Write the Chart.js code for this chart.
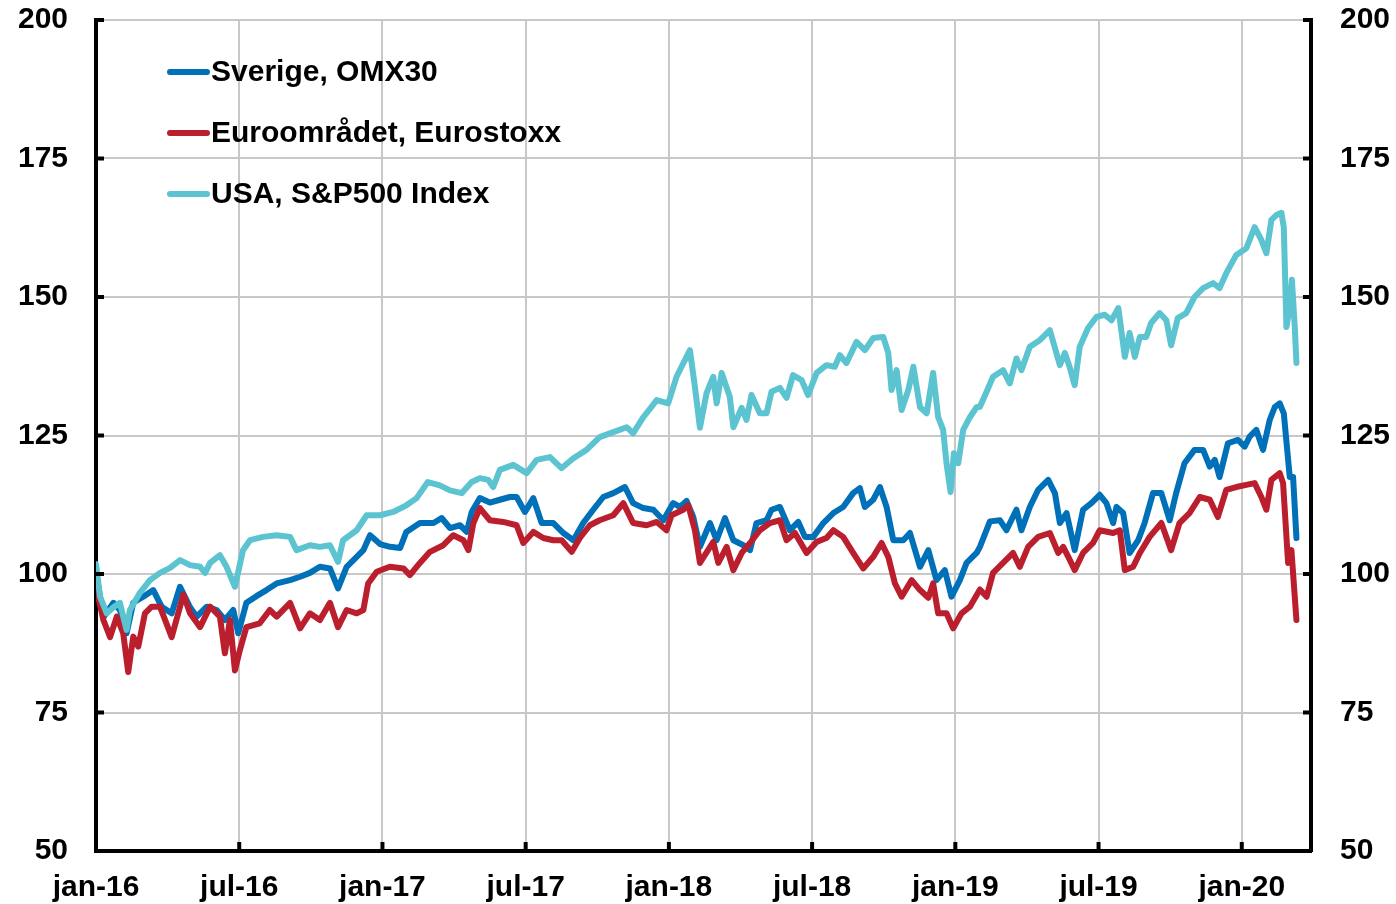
<!DOCTYPE html>
<html>
<head>
<meta charset="utf-8">
<script src="https://cdn.jsdelivr.net/npm/chart.js@4/dist/chart.umd.min.js"></script>
<style>
  html, body { margin: 0; padding: 0; background: #fff; }
</style>
</head>
<body>
<canvas id="chart-area" width="1396" height="904"></canvas>
<script>
// x = months since jan-16
var xTickMonths = [0, 6, 12, 18, 24, 30, 36, 42, 48];
var xTickLabels = ["jan-16", "jul-16", "jan-17", "jul-17", "jan-18", "jul-18", "jan-19", "jul-19", "jan-20"];
var seriesNames = ["Sverige, OMX30", "Euroområdet, Eurostoxx", "USA, S&P500 Index"];

var omxMonths = [0, 0.31, 0.73, 1.0, 1.28, 1.56, 1.98, 2.4, 2.75, 3.17, 3.52, 3.94, 4.22, 4.64, 5.05, 5.4, 5.75, 5.96,
  6.3, 6.72, 7.14, 7.57, 8.13, 8.55, 8.96, 9.38, 9.8, 10.14, 10.5, 10.92, 11.2, 11.48, 11.9, 12.32, 12.74, 13.0,
  13.57, 14.14, 14.48, 14.83, 15.25, 15.53, 15.74, 16.08, 16.5, 16.92, 17.34, 17.62, 17.97, 18.32, 18.67, 19.16,
  19.58, 20.0, 20.41, 20.83, 21.25, 21.67, 22.16, 22.5, 22.93, 23.35, 23.77, 24.18, 24.46, 24.74, 25.02, 25.3,
  25.72, 26.0, 26.35, 26.7, 27.12, 27.4, 27.67, 28.09, 28.3, 28.65, 29.07, 29.42, 29.7, 30.05, 30.47, 30.89, 31.3,
  31.72, 32.0, 32.21, 32.56, 32.84, 33.12, 33.4, 33.82, 34.1, 34.52, 34.87, 35.21, 35.56, 35.84, 36.19, 36.47,
  36.89, 37.03, 37.45, 37.87, 38.14, 38.56, 38.77, 39.12, 39.47, 39.89, 40.17, 40.38, 40.66, 41.0, 41.35, 41.7,
  42.05, 42.33, 42.61, 42.75, 43.03, 43.3, 43.66, 43.93, 44.28, 44.63, 44.98, 45.25, 45.6, 46.02, 46.38, 46.66,
  46.87, 47.07, 47.42, 47.84, 48.12, 48.33, 48.61, 48.89, 49.17, 49.38, 49.59, 49.76, 50.01, 50.15, 50.29];
var omxValues = [100.3, 92.2, 94.8, 93.5, 89.3, 94.8, 95.9, 97.1, 94.1, 92.9, 97.7, 94.0, 92.3, 94.1, 93.5, 91.7, 93.5, 89.3,
  94.8, 96.0, 97.1, 98.3, 98.9, 99.5, 100.2, 101.3, 101.0, 97.4, 101.3, 103.1, 104.3, 107.0, 105.4, 104.9, 104.7, 107.6,
  109.2, 109.2, 110.1, 108.3, 108.8, 107.6, 111.2, 113.7, 112.9, 113.4, 113.9, 113.9, 111.2, 113.7, 109.2, 109.2,
  107.4, 106.1, 109.2, 111.6, 113.9, 114.6, 115.7, 112.8, 111.9, 111.6, 109.7, 112.8, 112.1, 113.2, 110.3, 104.9,
  109.2, 106.1, 110.1, 106.1, 105.2, 104.3, 109.2, 109.7, 111.6, 112.1, 107.9, 109.4, 106.7, 106.7, 109.2, 111.0, 112.1,
  114.6, 115.5, 112.1, 113.4, 115.7, 112.1, 106.1, 106.1, 107.4, 101.3, 104.3, 98.9, 100.7, 95.9, 98.9, 102.0,
  103.8, 104.9, 109.5, 109.7, 107.9, 111.6, 107.9, 112.1, 115.2, 117.0, 114.6, 109.2, 111.0, 104.3, 111.6, 112.8,
  114.3, 112.8, 109.2, 112.1, 111.0, 103.8, 106.1, 109.2, 114.6, 114.6, 109.7, 114.6, 120.0, 122.4, 122.4, 119.4,
  120.6, 117.5, 123.6, 124.2, 123.0, 124.8, 126.0, 122.4, 127.8, 130.1, 130.8, 129.0, 117.5, 117.5, 106.5];

var euroMonths = [0, 0.31, 0.59, 0.87, 1.14, 1.35, 1.56, 1.77, 2.05, 2.33, 2.68, 3.17, 3.66, 3.94, 4.36, 4.78, 5.19, 5.4,
  5.61, 5.82, 6.03, 6.3, 6.86, 7.28, 7.57, 8.13, 8.55, 8.96, 9.38, 9.8, 10.14, 10.5, 10.92, 11.2, 11.4, 11.76, 12.31,
  12.88, 13.15, 13.57, 13.99, 14.55, 14.97, 15.39, 15.6, 15.81, 16.08, 16.5, 17.06, 17.62, 17.9, 18.32, 18.74, 19.16,
  19.51, 19.93, 20.27, 20.69, 21.1, 21.67, 22.09, 22.5, 23.07, 23.49, 23.9, 24.11, 24.6, 24.81, 25.09, 25.3, 25.86,
  26.07, 26.42, 26.7, 27.05, 27.4, 27.81, 28.23, 28.65, 28.93, 29.28, 29.77, 30.19, 30.6, 30.89, 31.3, 31.72, 32.14,
  32.56, 32.91, 33.19, 33.47, 33.75, 34.17, 34.52, 34.87, 35.07, 35.28, 35.63, 35.91, 36.26, 36.61, 37.03, 37.31,
  37.58, 38.0, 38.42, 38.7, 39.05, 39.47, 39.96, 40.31, 40.52, 40.8, 41.0, 41.35, 41.77, 42.05, 42.61, 42.89, 43.1,
  43.45, 43.73, 44.14, 44.63, 45.04, 45.39, 45.81, 46.24, 46.66, 47.0, 47.35, 47.77, 48.19, 48.54, 48.82, 49.03,
  49.24, 49.59, 49.73, 49.94, 50.08, 50.29];
var euroValues = [97.7, 91.7, 88.6, 92.3, 89.3, 82.3, 88.7, 86.9, 92.9, 94.1, 94.1, 88.6, 96.3, 92.9, 90.4, 94.1, 92.3, 85.7,
  91.7, 82.6, 86.3, 90.4, 91.1, 93.5, 92.3, 94.8, 90.2, 92.9, 91.7, 94.8, 90.4, 93.5, 92.9, 93.5, 98.3, 100.4, 101.3,
  101.0, 99.8, 102.0, 104.0, 105.2, 107.0, 106.1, 104.3, 109.2, 111.9, 109.7, 109.4, 108.8, 105.6, 107.6, 106.5, 106.1,
  106.1, 104.0, 106.5, 108.8, 109.7, 110.6, 112.8, 109.2, 108.8, 109.4, 107.9, 110.6, 111.6, 112.4, 107.9, 102.0, 105.8,
  102.0, 104.9, 100.7, 103.8, 105.6, 107.9, 109.2, 109.7, 106.1, 107.4, 103.8, 105.8, 106.5, 107.9, 106.7, 103.8, 101.0,
  103.1, 105.6, 103.1, 98.3, 95.9, 98.9, 97.1, 95.7, 98.3, 92.9, 92.9, 90.2, 92.9, 94.1, 97.2, 95.9,
  100.2, 102.0, 103.8, 101.3, 104.9, 106.7, 107.4, 103.8, 104.9, 102.5, 100.7, 103.8, 105.6, 107.9, 107.4, 107.9, 100.7,
  101.3, 103.8, 106.7, 109.2, 104.3, 109.2, 111.0, 113.9, 113.4, 110.3, 115.2, 115.7, 116.1, 116.4, 113.9, 111.6,
  117.0, 118.2, 116.4, 102.0, 104.3, 91.7];

var spxMonths = [0, 0.17, 0.45, 0.73, 1.0, 1.28, 1.42, 1.84, 2.26, 2.68, 3.1, 3.52, 3.94, 4.36, 4.57, 4.78, 5.19, 5.47,
  5.82, 6.16, 6.45, 7.0, 7.57, 8.13, 8.4, 8.96, 9.38, 9.8, 10.14, 10.35, 10.92, 11.34, 11.9, 12.45, 13.0, 13.43, 13.9,
  14.4, 14.83, 15.32, 15.74, 16.08, 16.43, 16.64, 16.92, 17.48, 18.04, 18.46, 19.02, 19.5, 20.0, 20.55, 21.1, 21.67,
  22.23, 22.5, 22.93, 23.49, 23.97, 24.32, 24.88, 25.09, 25.3, 25.58, 25.86, 26.0, 26.21, 26.55, 26.7, 27.05, 27.25,
  27.46, 27.81, 28.09, 28.3, 28.65, 28.93, 29.2, 29.56, 29.83, 30.19, 30.6, 30.95, 31.16, 31.44, 31.86, 32.21, 32.56,
  32.98, 33.19, 33.33, 33.54, 33.75, 34.03, 34.24, 34.52, 34.8, 35.07, 35.28, 35.49, 35.63, 35.8, 35.94, 36.12, 36.33,
  36.61, 36.89, 37.03, 37.31, 37.58, 38.0, 38.28, 38.56, 38.77, 39.12, 39.54, 39.96, 40.38, 40.59, 40.8, 41.0, 41.21,
  41.56, 41.91, 42.26, 42.54, 42.83, 43.1, 43.3, 43.52, 43.73, 44.0, 44.2, 44.56, 44.84, 45.04, 45.32, 45.67, 46.02,
  46.38, 46.8, 47.07, 47.35, 47.77, 48.19, 48.54, 48.82, 49.03, 49.24, 49.45, 49.66, 49.76, 49.87, 50.01, 50.1,
  50.22, 50.29];
var spxValues = [101.8, 95.9, 92.9, 94.0, 94.8, 89.9, 93.5, 96.6, 98.9, 100.2, 101.1, 102.5, 101.6, 101.3, 100.2, 102.0, 103.4, 101.3,
  97.7, 104.3, 106.1, 106.7, 107.0, 106.7, 104.3, 105.2, 104.9, 105.2, 102.2, 106.1, 107.9, 110.6, 110.6, 111.2, 112.4, 113.7, 116.6,
  116.0, 115.1, 114.6, 116.6, 117.3, 117.0, 115.7, 118.8, 119.7, 118.2, 120.6, 121.1, 119.1, 120.9, 122.4, 124.7, 125.6,
  126.5, 125.4, 128.3, 131.4, 130.8, 135.6, 140.4, 133.8, 126.4, 132.7, 135.6, 130.8, 136.3, 132.0, 126.5, 130.0, 127.8,
  132.3, 129.0, 129.0, 132.9, 133.6, 131.8, 135.9, 135.0, 132.3, 136.3, 137.7, 137.4, 139.5, 138.1, 141.9, 140.4, 142.6,
  142.8, 139.9, 133.2, 136.8, 129.6, 133.2, 137.4, 130.1, 129.0, 136.3, 128.3, 126.0, 120.0, 114.8, 121.8, 120.0, 126.0,
  128.3, 130.1, 130.2, 132.9, 135.6, 136.8, 134.4, 138.9, 136.8, 141.0, 142.2, 144.0, 137.7, 139.9, 137.2, 134.1, 141.0,
  144.4, 146.4, 146.8, 145.8, 148.0, 139.2, 143.5, 139.2, 142.8, 142.8, 145.3, 147.1, 145.8, 141.3, 146.2, 147.1, 150.0,
  151.6, 152.5, 151.6, 154.3, 157.6, 158.8, 162.6, 160.3, 157.9, 163.9, 164.8, 165.2, 162.6, 144.6, 148.2, 153.1,
  144.6, 138.1];

var seriesColors = ["#0070b8", "#bb1e2d", "#5cc3d0"];

function toPoints(xs, ys) {
  return xs.map(function(m, i) { return { x: m, y: ys[i] }; });
}

var labelFont = { family: "'Liberation Sans', Arial, sans-serif", size: 30, weight: "bold" };

// inward tick marks + legend inside the plot
var extras = {
  id: "extras",
  afterDraw: function(chart) {
    var ctx = chart.ctx;
    var a = chart.chartArea;
    var ys = chart.scales.y;
    var xs = chart.scales.x;
    ctx.save();
    ctx.strokeStyle = "#000";
    ctx.lineWidth = 4;
    ys.ticks.forEach(function(t) {
      var y = ys.getPixelForValue(t.value);
      ctx.beginPath();
      ctx.moveTo(a.left, y); ctx.lineTo(a.left + 8, y);
      ctx.moveTo(a.right - 8, y); ctx.lineTo(a.right, y);
      ctx.stroke();
    });
    xs.ticks.forEach(function(t) {
      var x = xs.getPixelForValue(t.value);
      ctx.beginPath();
      ctx.moveTo(x, a.bottom); ctx.lineTo(x, a.bottom - 9);
      ctx.stroke();
    });

    ctx.font = "bold 30px 'Liberation Sans', Arial, sans-serif";
    ctx.textBaseline = "middle";
    ctx.textAlign = "left";
    ctx.lineCap = "round";
    ctx.lineWidth = 6;
    seriesNames.forEach(function(name, i) {
      var y = 72 + i * 61;
      ctx.strokeStyle = seriesColors[i];
      ctx.beginPath();
      ctx.moveTo(170, y); ctx.lineTo(207, y);
      ctx.stroke();
      ctx.fillStyle = "#000";
      ctx.fillText(name, 211, y + 1);
    });
    ctx.restore();
  }
};

function lineSet(i, xs, vs, order) {
  return {
    label: seriesNames[i],
    data: toPoints(xs, vs),
    borderColor: seriesColors[i],
    borderWidth: 6,
    pointRadius: 0,
    tension: 0,
    borderJoinStyle: "round",
    borderCapStyle: "round",
    order: order
  };
}

function fitY(width) {
  return function(s) {
    s.width = width;
    s.paddingTop = 0;
    s.paddingBottom = 0;
  };
}

var config = {
  type: "line",
  data: {
    datasets: [
      lineSet(0, omxMonths, omxValues, 2),
      lineSet(1, euroMonths, euroValues, 1),
      lineSet(2, spxMonths, spxValues, 0)
    ]
  },
  options: {
    responsive: false,
    animation: false,
    devicePixelRatio: 1,
    layout: { padding: { top: 20, left: 0, right: 0, bottom: 0 } },
    plugins: { legend: { display: false }, tooltip: { enabled: false } },
    scales: {
      x: {
        type: "linear",
        min: 0,
        max: 50.9,
        afterBuildTicks: function(s) { s.ticks = xTickMonths.map(function(v) { return { value: v }; }); },
        afterFit: function(s) { s.height = 53; },
        ticks: {
          callback: function(v, i) { return xTickLabels[i]; },
          font: labelFont, color: "#000", padding: 19, maxRotation: 0, autoSkip: false
        },
        grid: { color: "#c8c8c8", lineWidth: 2, drawTicks: false },
        border: { color: "#000", width: 4 }
      },
      y: {
        position: "left",
        min: 50,
        max: 200,
        afterFit: fitY(96),
        ticks: { stepSize: 25, font: labelFont, color: "#000", padding: 28 },
        grid: { color: "#c8c8c8", lineWidth: 2, drawTicks: false },
        border: { color: "#000", width: 4 }
      },
      y2: {
        position: "right",
        min: 50,
        max: 200,
        afterFit: fitY(85),
        ticks: { stepSize: 25, font: labelFont, color: "#000", padding: 29 },
        grid: { drawOnChartArea: false, drawTicks: false },
        border: { color: "#000", width: 4 }
      }
    }
  },
  plugins: [extras]
};

var ctx = document.getElementById("chart-area").getContext("2d");
var myChart = new Chart(ctx, config);
</script>
</body>
</html>
